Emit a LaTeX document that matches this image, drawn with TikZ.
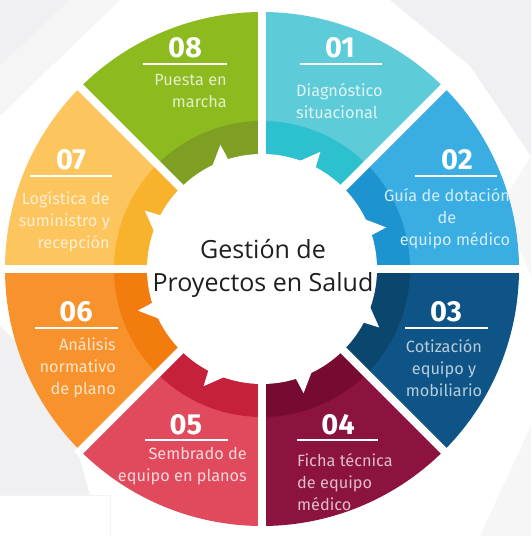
\documentclass[tikz,border=0pt]{standalone}
\usepackage{fontspec}
\setmainfont{Fira Sans}
\newfontfamily\centerfont{Open Sans}
\definecolor{cEightM}{HTML}{8DBB1F}\definecolor{cEightB}{HTML}{7E9F22}
\definecolor{cOneM}{HTML}{5ECCD8}\definecolor{cOneB}{HTML}{2DC0CE}
\definecolor{cTwoM}{HTML}{3AAEE2}\definecolor{cTwoB}{HTML}{1D94D0}
\definecolor{cThreeM}{HTML}{0E5486}\definecolor{cThreeB}{HTML}{0B466F}
\definecolor{cFourM}{HTML}{8C1240}\definecolor{cFourB}{HTML}{760A31}
\definecolor{cFiveM}{HTML}{E04A5C}\definecolor{cFiveB}{HTML}{C6213A}
\definecolor{cSixM}{HTML}{F8922C}\definecolor{cSixB}{HTML}{F27D0E}
\definecolor{cSevenM}{HTML}{FDC55E}\definecolor{cSevenB}{HTML}{F9B22C}
\definecolor{bgGray}{HTML}{F0F0F2}
\tikzset{
  num/.style={font=\fontsize{29}{30}\selectfont\bfseries, text=white, inner sep=0pt},
  desc/.style={font=\fontsize{16.3}{22}\selectfont, inner sep=0pt},
  uline/.style={white, line width=2.6pt},
  gapline/.style={white, line width=8pt},
}
\begin{document}
\begin{tikzpicture}[x=1pt,y=1pt]
\useasboundingbox (0,0) rectangle (531,536);
\fill[white] (0,0) rectangle (531,536);
% faint background facets
\fill[bgGray] (0,536) -- (70,536) -- (0,470) -- cycle;
\fill[bgGray!70] (70,536) -- (120,536) -- (0,420) -- (0,470) -- cycle;
\fill[bgGray] (390,536) -- (531,536) -- (531,380) -- (470,470) -- cycle;
\fill[bgGray!60] (531,380) -- (531,260) -- (500,330) -- cycle;
\fill[bgGray] (0,210) -- (60,150) -- (90,40) -- (0,40) -- cycle;
\fill[bgGray!60] (480,0) -- (531,0) -- (531,110) -- cycle;
\fill[white] (0,0) rectangle (110,41);
\draw[bgGray!80, line width=0.8pt] (0,41) -- (110,41) -- (110,0);
\coordinate (C) at (262,267);
% segments: main color then band
\foreach \a/\m/\b in {45/cOneM/cOneB, 0/cTwoM/cTwoB, -45/cThreeM/cThreeB, -90/cFourM/cFourB,
                      -135/cFiveM/cFiveB, 180/cSixM/cSixB, 135/cSevenM/cSevenB, 90/cEightM/cEightB}{
  \fill[\m] ([shift={(\a:257)}]C) arc[start angle=\a, end angle=\a+45, radius=257]
        -- ([shift={(\a+45:115)}]C) arc[start angle=\a+45, end angle=\a, radius=115] -- cycle;
  \fill[\b] ([shift={(\a:148)}]C) arc[start angle=\a, end angle=\a+45, radius=148]
        -- ([shift={(\a+45:112)}]C) arc[start angle=\a+45, end angle=\a, radius=112] -- cycle;
}
% white gaps
\foreach \a in {0,45,...,315}{
  \draw[gapline] (C) -- ([shift={(\a:262)}]C);
}
% inner white disc with small teeth
\fill[white] (C) circle[radius=115];
\foreach \a in {22.5,67.5,...,337.5}{
  \fill[white] ([shift={(\a+4:113)}]C) -- ([shift={(\a-4:131)}]C) -- ([shift={(\a-5.5:113)}]C) -- cycle;
}
% centre text
\node[font=\centerfont\fontsize{25}{33}\selectfont, text=black!88, align=center, inner sep=0pt] (title) at (263,268) {Gesti\'on de\\Proyectos en Salud};
% numbers and underlines
\node[num] (n8) at (185,488) {08}; \draw[uline] (143,472) -- (227,472);
\node[num] (n1) at (340,488) {01}; \draw[uline] (300,472) -- (382,472);
\node[num] (n2) at (457,376) {02}; \draw[uline] (415,360) -- (497,360);
\node[num] (n3) at (446,224) {03}; \draw[uline] (405,208) -- (488,208);
\node[num] (n4) at (338,111) {04}; \draw[uline] (297,96) -- (378,96);
\node[num] (n5) at (186,111) {05}; \draw[uline] (145,96) -- (228,96);
\node[num] (n6) at (76,224) {06}; \draw[uline] (35,208) -- (118,208);
\node[num] (n7) at (71,376) {07}; \draw[uline] (30,360) -- (112,360);
% descriptions
\node[desc, text=white!75!cEightM, align=right, anchor=east] (d8) at (227,445) {Puesta en\\marcha};
\node[desc, text=white!80!cOneM, align=left, anchor=west] (d1) at (296,435) {Diagn\'ostico\\situacional};
\node[desc, text=white!78!cTwoM, align=center] (d2) at (447,317) {Gu\'ia de dotaci\'on\\de\\\hspace*{16pt}equipo m\'edico};
\node[desc, text=white!70!cThreeM, align=center] (d3) at (444,168) {Cotizaci\'on\\equipo y\\mobiliario};
\node[desc, text=white!72!cFourM, align=left, anchor=west] (d4) at (297,54) {Ficha t\'ecnica\\de equipo\\m\'edico};
\node[desc, text=white!78!cFiveM, align=right, anchor=east] (d5) at (247,70) {Sembrado de\\equipo en planos};
\node[desc, text=white!75!cSixM, align=right, anchor=east] (d6) at (116,168) {An\'alisis\\normativo\\de plano};
\node[desc, text=white!72!cSevenM, align=right, anchor=east] (d7) at (110,314) {Log\'istica de\\suministro y\\recepci\'on};
\end{tikzpicture}
\end{document}
